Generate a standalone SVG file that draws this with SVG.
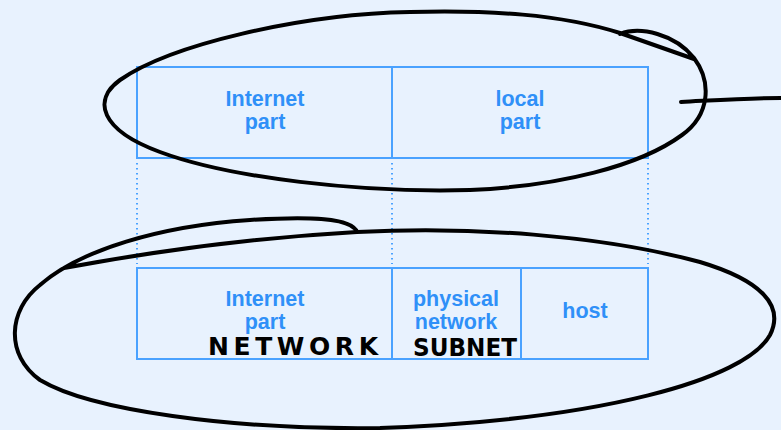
<svg xmlns="http://www.w3.org/2000/svg" width="781" height="430" viewBox="0 0 781 430">
<defs>
<style>
.bg{fill:#e8f2fe}
.box{fill:none;stroke:#4aa2ff;stroke-width:2}
.dot{fill:none;stroke:#4aa2ff;stroke-width:2;stroke-dasharray:1.5 3.5}
.lbl{font-family:"Liberation Sans",Arial,sans-serif;font-weight:bold;font-size:21.5px;fill:#2f90f8;text-anchor:middle}
.ink{fill:none;stroke:#000;stroke-width:4;stroke-linecap:round;stroke-linejoin:round}
.hand{font-family:"DejaVu Sans",sans-serif;font-weight:bold;font-size:25px;fill:#000}
</style>
</defs>
<rect class="bg" x="0" y="0" width="781" height="430"/>
<g id="top-address">
<rect class="box" x="137" y="67" width="511" height="91"/>
<line class="box" x1="392" y1="67" x2="392" y2="158"/>
</g>
<g id="top-internet-part">
<text class="lbl" x="265" y="106">Internet</text>
<text class="lbl" x="265" y="129">part</text>
</g>
<g id="top-local-part">
<text class="lbl" x="520" y="106">local</text>
<text class="lbl" x="520" y="129">part</text>
</g>
<g id="bottom-address">
<rect class="box" x="137" y="268" width="511" height="91"/>
<line class="box" x1="392" y1="268" x2="392" y2="359"/>
<line class="box" x1="521" y1="268" x2="521" y2="359"/>
</g>
<g id="bottom-internet-part">
<text class="lbl" x="265" y="306">Internet</text>
<text class="lbl" x="265" y="329">part</text>
</g>
<g id="bottom-physical-network">
<text class="lbl" x="456" y="306">physical</text>
<text class="lbl" x="456" y="329">network</text>
</g>
<g id="bottom-host">
<text class="lbl" x="585" y="318">host</text>
</g>
<g id="connectors">
<line class="dot" x1="137" y1="163" x2="137" y2="264"/>
<line class="dot" x1="392" y1="163" x2="392" y2="264"/>
<line class="dot" x1="648" y1="163" x2="648" y2="264"/>
</g>
<g id="annotations">
<path class="ink" d="M620,34 C640,26 675,34 694,58 C712,82 710,115 682,135 C640,166 560,186 470,190 C360,193 230,178 160,152 C100,130 92,100 120,80 C170,45 300,14 410,12 C490,10 560,14 620,33 L694,59"/>
<path class="ink" d="M681,102 C720,100 750,98 781,98"/>
<path class="ink" d="M64,268 C150,252 250,238 357,232 C470,226 600,235 700,262 C760,280 785,305 770,335 C745,380 600,420 380,428 C230,430 90,410 40,380 C5,355 8,310 40,285 C80,250 160,226 250,220 C310,216 352,218 357,232"/>
<text class="hand" x="208" y="355" textLength="170" lengthAdjust="spacing">NETWORK</text>
<text class="hand" x="413" y="356" textLength="104" lengthAdjust="spacingAndGlyphs">SUBNET</text>
</g>
</svg>
